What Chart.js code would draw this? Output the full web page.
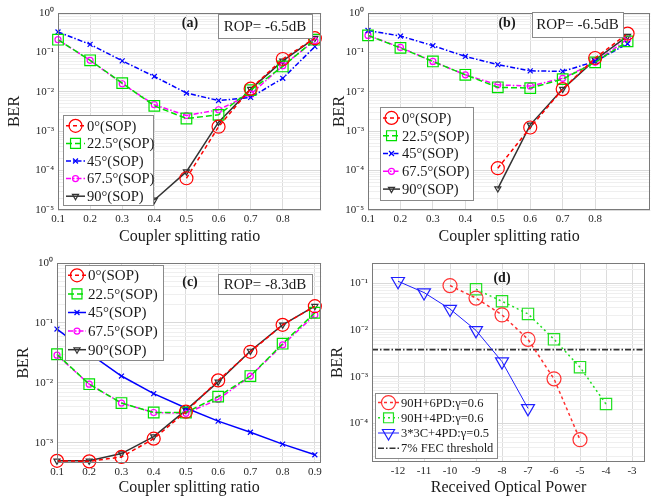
<!DOCTYPE html>
<html>
<head>
<meta charset="utf-8">
<script src="https://cdn.jsdelivr.net/npm/chart.js@4.4.0/dist/chart.umd.min.js"></script>
<style>
  body { margin: 0; background: #fff; }
  .panel { position: absolute; }
</style>
</head>
<body>
<div class="panel" style="left:0;top:0"><canvas id="chartA" width="330" height="250"></canvas></div>
<div class="panel" style="left:330px;top:0"><canvas id="chartB" width="329" height="250"></canvas></div>
<div class="panel" style="left:0;top:250px"><canvas id="chartC" width="330" height="251"></canvas></div>
<div class="panel" style="left:330px;top:250px"><canvas id="chartD" width="329" height="251"></canvas></div>
<script>
// splitting ratio (x axis of a, b, c)
const ratio = [0.1, 0.2, 0.3, 0.4, 0.5, 0.6, 0.7, 0.8, 0.9];
const sopNames = ['0°(SOP)', '22.5°(SOP)', '45°(SOP)', '67.5°(SOP)', '90°(SOP)'];

// (a) ROP = -6.5dB
const berA0   = [null, null, null, null, 6.4e-5, 1.3e-3, 0.012, 0.068, 0.23];
const berA225 = [0.21, 0.063, 0.0166, 4.4e-3, 2.1e-3, 2.6e-3, 0.011, 0.044, 0.21];
const berA45  = [0.33, 0.16, 0.061, 0.0245, 9.3e-3, 6.0e-3, 7.2e-3, 0.022, 0.14];
const berA675 = [0.21, 0.063, 0.016, 4.7e-3, 2.5e-3, 3.5e-3, 8.7e-3, 0.046, 0.2];
const berA90  = [null, null, null, 1.8e-5, 9.4e-5, 1.7e-3, 0.0117, 0.061, 0.23];

// (b) ROP = -6.5dB
const berB0   = [null, null, null, null, 1.15e-4, 1.24e-3, 0.0117, 0.072, 0.3];
const berB225 = [0.27, 0.13, 0.059, 0.027, 0.013, 0.0124, 0.021, 0.056, 0.19];
const berB45  = [0.36, 0.26, 0.148, 0.079, 0.049, 0.034, 0.033, 0.059, 0.166];
const berB675 = [0.27, 0.134, 0.059, 0.027, 0.015, 0.014, 0.022, 0.056, 0.22];
const berB90  = [null, null, null, null, 3.5e-5, 1.45e-3, 0.0117, 0.065, 0.26];

// (c) ROP = -8.3dB
const berC0   = [5.0e-4, 4.9e-4, 5.8e-4, 1.17e-3, 3.3e-3, 0.011, 0.033, 0.093, 0.19];
const berC225 = [0.030, 9.5e-3, 4.6e-3, 3.2e-3, 3.2e-3, 5.9e-3, 0.013, 0.045, 0.148];
const berC45  = [0.079, 0.031, 0.013, 6.6e-3, 3.8e-3, 2.3e-3, 1.5e-3, 9.5e-4, 6.3e-4];
const berC675 = [0.029, 9.5e-3, 4.6e-3, 3.2e-3, 3.1e-3, 5.3e-3, 0.013, 0.043, 0.136];
const berC90  = [5.0e-4, 5.0e-4, 6.6e-4, 1.27e-3, 3.5e-3, 0.0104, 0.034, 0.093, 0.19];

// (d) BER vs received optical power
const rop6PD = [-10, -9, -8, -7, -6, -5];
const ber6PD = [0.089, 0.048, 0.021, 6.3e-3, 9.0e-4, 4.5e-5];
const rop4PD = [-9, -8, -7, -6, -5, -4];
const ber4PD = [0.074, 0.041, 0.022, 6.3e-3, 1.6e-3, 2.6e-4];
const rop3C  = [-12, -11, -10, -9, -8, -7];
const ber3C  = [0.11, 0.063, 0.028, 9.8e-3, 2.1e-3, 2.1e-4];
const fecThreshold = 3.8e-3;
const fecRange = [-13, -2.5];
const dNames = ['90H+6PD:γ=0.6', '90H+4PD:γ=0.6', '3*3C+4PD:γ=0.5', '7% FEC threshold'];

// tick labels
const ratioTicksAB = [0.1, 0.2, 0.3, 0.4, 0.5, 0.6, 0.7, 0.8];
const ratioTicksC = [0.1, 0.2, 0.3, 0.4, 0.5, 0.6, 0.7, 0.8, 0.9];
const ropTicks = [-12, -11, -10, -9, -8, -7, -6, -5, -4, -3];
const decadesAB = [1e-5, 1e-4, 1e-3, 1e-2, 1e-1, 1];
const decadesC = [1e-4, 1e-3, 1e-2, 1e-1, 1];
const decadesD = [1e-5, 1e-4, 1e-3, 1e-2, 1e-1];

const SERIF = "'Liberation Serif', 'Times New Roman', serif";
const sup = { '-': '⁻', '0': '⁰', '1': '¹', '2': '²', '3': '³', '4': '⁴', '5': '⁵' };

function isDecade(v) {
  const e = Math.log10(v);
  return Math.abs(e - Math.round(e)) < 1e-6;
}
function powLabel(v) {
  if (!isDecade(v)) return '';
  return '10' + String(Math.round(Math.log10(v))).split('').map(c => sup[c]).join('');
}
function logTicks(decades, min, max) {
  const out = [];
  decades.forEach(d => {
    for (let k = 1; k <= 9; k++) {
      const v = k * d;
      if (v >= min * 0.999 && v <= max * 1.001) out.push({ value: v });
    }
  });
  return out;
}

const sopStyle = [
  { borderColor: '#ff0000', pointBorderColor: '#ff0000', borderDash: [4, 3], pointStyle: 'circle', pointRadius: 6.5 },
  { borderColor: '#00e000', pointBorderColor: '#00e000', borderDash: [6, 3], pointStyle: 'rect', pointRadius: 7.5 },
  { borderColor: '#0000ff', pointBorderColor: '#0000ff', borderDash: [5, 2, 1.5, 2], pointStyle: 'crossRot', pointRadius: 3.5 },
  { borderColor: '#ff00ff', pointBorderColor: '#ff00ff', borderDash: [5, 2, 1.5, 2], pointStyle: 'circle', pointRadius: 3 },
  { borderColor: '#333333', pointBorderColor: '#333333', borderDash: [], pointStyle: 'triangle', pointRotation: 180, pointRadius: 3.5 }
];

function series(label, xs, ys, style) {
  return Object.assign({
    label: label,
    data: xs.map((x, i) => ({ x: x, y: ys[i] })),
    fill: false,
    tension: 0,
    borderWidth: 1.5,
    pointBorderWidth: 1.2,
    pointBackgroundColor: 'rgba(0,0,0,0)',
    clip: false
  }, style);
}

// draws axes box, panel tag, ROP box and the in-plot legend
const panelDecor = {
  id: 'panelDecor',
  afterDraw(chart, args, o) {
    const ctx = chart.ctx;
    const a = chart.chartArea;
    ctx.save();
    ctx.strokeStyle = '#7a7a7a';
    ctx.lineWidth = 1;
    ctx.setLineDash([]);
    ctx.strokeRect(Math.round(a.left) + 0.5, Math.round(a.top) + 0.5, Math.round(a.right - a.left) - 1, Math.round(a.bottom - a.top) - 1);

    ctx.fillStyle = '#1a1a1a';
    ctx.textAlign = 'center';
    ctx.textBaseline = 'middle';
    ctx.font = 'bold 14px ' + SERIF;
    ctx.fillText(o.tag, o.tagX, o.tagY);

    if (o.rop) {
      const b = o.ropBox;
      ctx.fillStyle = '#fff';
      ctx.fillRect(b[0], b[1], b[2], b[3]);
      ctx.strokeStyle = '#8a8a8a';
      ctx.strokeRect(b[0] + 0.5, b[1] + 0.5, b[2], b[3]);
      ctx.fillStyle = '#1a1a1a';
      ctx.font = '15px ' + SERIF;
      ctx.fillText(o.rop, b[0] + b[2] / 2, b[1] + b[3] / 2 + 1);
    }

    const lg = o.legend;
    ctx.fillStyle = '#fff';
    ctx.fillRect(lg.x, lg.y, lg.w, lg.h);
    ctx.strokeStyle = '#8a8a8a';
    ctx.lineWidth = 1;
    ctx.strokeRect(lg.x + 0.5, lg.y + 0.5, lg.w, lg.h);
    ctx.font = lg.font + 'px ' + SERIF;
    ctx.textAlign = 'left';
    chart.data.datasets.forEach((ds, i) => {
      const cy = lg.y + lg.top + lg.row * (i + 0.5);
      const x0 = lg.x + 3, x1 = x0 + lg.line;
      ctx.strokeStyle = ds.borderColor;
      ctx.lineWidth = ds.borderWidth;
      ctx.setLineDash(ds.borderDash || []);
      ctx.beginPath();
      ctx.moveTo(x0, cy);
      ctx.lineTo(x1, cy);
      ctx.stroke();
      ctx.setLineDash([]);
      if (ds.pointRadius > 0) {
        ctx.strokeStyle = ds.pointBorderColor;
        ctx.fillStyle = 'rgba(0,0,0,0)';
        ctx.lineWidth = ds.pointBorderWidth;
        Chart.helpers.drawPoint(ctx, {
          pointStyle: ds.pointStyle,
          rotation: ds.pointRotation || 0,
          radius: Math.min(ds.pointRadius, lg.maxMarker),
          borderWidth: ds.pointBorderWidth
        }, (x0 + x1) / 2, cy);
      }
      ctx.fillStyle = '#1a1a1a';
      ctx.fillText(ds.label, x1 + 2, cy + 1);
    });
    ctx.restore();
  }
};

function logAxis(decades, min, max, yWidth, titlePad) {
  return {
    type: 'logarithmic',
    min: min,
    max: max,
    afterBuildTicks: s => { s.ticks = logTicks(decades, min, max); },
    afterFit: s => { s.width = yWidth; },
    ticks: {
      autoSkip: false,
      padding: 4,
      color: '#262626',
      font: { family: SERIF, size: 11 },
      callback: v => powLabel(v)
    },
    grid: {
      drawTicks: false,
      color: c => isDecade(c.tick.value) ? '#d9d9d9' : '#efefef'
    },
    border: { display: false },
    title: {
      display: true,
      text: 'BER',
      color: '#1a1a1a',
      font: { family: SERIF, size: 16, lineHeight: 1 },
      padding: { top: titlePad, bottom: 0 }
    }
  };
}

function linAxis(tickVals, min, max, title, fmt) {
  return {
    type: 'linear',
    min: min,
    max: max,
    afterBuildTicks: s => { s.ticks = tickVals.map(v => ({ value: v })); },
    afterFit: s => { s.height = s.chart.height - 13 - (s.chart.options.layout.plotH); },
    ticks: {
      autoSkip: false,
      maxRotation: 0,
      padding: 3,
      color: '#262626',
      font: { family: SERIF, size: 11 },
      callback: fmt
    },
    grid: { drawTicks: false, color: '#dcdcdc' },
    border: { display: false },
    title: {
      display: true,
      text: title,
      color: '#1a1a1a',
      font: { family: SERIF, size: 16, lineHeight: 1 },
      padding: { top: 0, bottom: 5 }
    }
  };
}

function sopChart(id, ys, xMax, tickVals, decades, yMin, yWidth, titlePad, padRight, plotH, decor, solidBlue) {
  const datasets = ys.map((y, i) => {
    const st = Object.assign({}, sopStyle[i]);
    if (solidBlue && i === 2) st.borderDash = [];
    return series(sopNames[i], ratio, y, st);
  });
  new Chart(document.getElementById(id), {
    type: 'line',
    data: { datasets: datasets },
    options: {
      responsive: false,
      animation: false,
      events: [],
      layout: { padding: { top: 13, right: padRight, left: 0, bottom: 0 }, plotH: plotH },
      scales: {
        x: linAxis(tickVals, 0.1, xMax, 'Coupler splitting ratio', v => v.toFixed(1)),
        y: logAxis(decades, yMin, 1, yWidth, titlePad)
      },
      plugins: { legend: { display: false }, tooltip: { enabled: false }, panelDecor: decor }
    },
    plugins: [panelDecor]
  });
}

sopChart('chartA', [berA0, berA225, berA45, berA675, berA90], 0.92, ratioTicksAB, decadesAB, 1e-5, 58, 7, 5, 197, {
  tag: '(a)', tagX: 190, tagY: 23,
  rop: 'ROP= -6.5dB', ropBox: [218, 14, 94, 24],
  legend: { x: 63, y: 115, w: 90, h: 90, top: 2, row: 17.6, line: 19, font: 14.5, maxMarker: 7 }
}, false);

sopChart('chartB', [berB0, berB225, berB45, berB675, berB90], 0.97, ratioTicksAB, decadesAB, 1e-5, 38, 2, 4, 197, {
  tag: '(b)', tagX: 177, tagY: 23,
  rop: 'ROP= -6.5dB', ropBox: [202, 12, 91, 25],
  legend: { x: 50, y: 107, w: 93, h: 93, top: 2, row: 17.8, line: 17, font: 14.5, maxMarker: 7 }
}, false);

sopChart('chartC', [berC0, berC225, berC45, berC675, berC90], 0.92, ratioTicksC, decadesC, 4.6e-4, 57, 16, 5, 200, {
  tag: '(c)', tagX: 190, tagY: 32,
  rop: 'ROP= -8.3dB', ropBox: [218, 24, 94, 20],
  legend: { x: 65, y: 15, w: 98, h: 95, top: 1, row: 18.6, line: 18, font: 15, maxMarker: 7 }
}, true);

// (d)
new Chart(document.getElementById('chartD'), {
  type: 'line',
  data: {
    datasets: [
      series(dNames[0], rop6PD, ber6PD, { borderColor: '#ff3030', pointBorderColor: '#ff3030', borderDash: [3, 3], pointStyle: 'circle', pointRadius: 7 }),
      series(dNames[1], rop4PD, ber4PD, { borderColor: '#22e022', pointBorderColor: '#22e022', borderDash: [2, 3], pointStyle: 'rect', pointRadius: 8 }),
      series(dNames[2], rop3C, ber3C, { borderColor: '#2020ff', pointBorderColor: '#2020ff', borderDash: [], borderWidth: 1, pointStyle: 'triangle', pointRotation: 180, pointRadius: 7.5 }),
      series(dNames[3], fecRange, [fecThreshold, fecThreshold], { borderColor: '#333333', borderDash: [6, 2, 1.5, 2], borderWidth: 1.6, pointRadius: 0 })
    ]
  },
  options: {
    responsive: false,
    animation: false,
    events: [],
    layout: { padding: { top: 13, right: 14, left: 0, bottom: 0 }, plotH: 199 },
    scales: {
      x: linAxis(ropTicks, -13, -2.5, 'Received Optical Power', v => String(v)),
      y: logAxis(decadesD, 1.5e-5, 0.27, 42, 0)
    },
    plugins: {
      legend: { display: false },
      tooltip: { enabled: false },
      panelDecor: {
        tag: '(d)', tagX: 172, tagY: 28,
        legend: { x: 45, y: 143, w: 122, h: 65, top: 2, row: 15.2, line: 21, font: 12.5, maxMarker: 7 }
      }
    }
  },
  plugins: [panelDecor]
});
</script>
</body>
</html>
